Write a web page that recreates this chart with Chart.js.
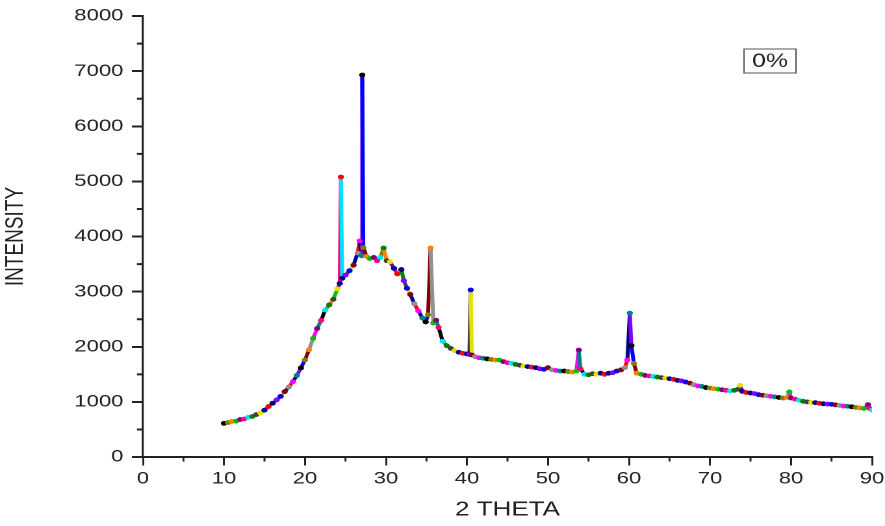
<!DOCTYPE html>
<html>
<head>
<meta charset="utf-8">
<script src="https://cdn.jsdelivr.net/npm/chart.js@4"></script>
<style>
  html, body { margin: 0; padding: 0; background: #fff; overflow: hidden; }
  #wrap { width: 681px; height: 526px; transform: scaleX(1.29956); transform-origin: 0 0; }
</style>
</head>
<body>
<div id="wrap"><canvas id="c" width="681" height="526"></canvas></div>
<script>
// ---- data ----
const twoTheta = [
  10.0,10.5,11.0,11.5,12.0,12.5,13.0,13.5,14.0,14.5,15.0,15.5,16.0,16.5,17.0,17.5,18.0,18.5,19.0,19.5,
  20.0,20.5,21.0,21.5,22.0,22.5,23.0,23.5,24.0,24.3,24.44,24.6,25.0,25.5,26.0,26.5,26.75,27.0,27.07,27.2,
  27.6,28.0,28.5,28.9,29.3,29.7,30.1,30.5,31.0,31.4,31.9,32.2,32.6,33.0,33.5,34.0,34.5,34.9,35.2,35.5,
  35.85,36.2,36.5,37.0,37.5,38.0,38.5,39.0,39.5,40.0,40.3,40.46,40.6,41.0,41.5,42.0,42.5,43.0,43.5,44.0,
  44.5,45.0,45.5,46.0,46.5,47.0,47.5,48.0,48.5,49.0,49.5,50.0,50.5,51.0,51.5,52.0,52.5,53.0,53.5,53.8,
  54.0,54.5,55.0,55.5,56.0,56.5,57.0,57.5,58.0,58.5,59.0,59.5,59.8,60.1,60.3,60.6,60.95,61.5,62.0,62.5,
  63.0,63.5,64.0,64.5,65.0,65.5,66.0,66.5,67.0,67.5,68.0,68.5,69.0,69.5,70.0,70.5,71.0,71.5,72.0,72.5,
  73.0,73.5,73.7,74.0,74.5,75.0,75.5,76.0,76.5,77.0,77.5,78.0,78.5,79.0,79.5,79.8,80.0,80.5,81.0,81.5,
  82.0,82.5,83.0,83.5,84.0,84.5,85.0,85.5,86.0,86.5,87.0,87.5,88.0,88.5,89.0,89.5,89.7,90.0
];
const intensity = [
  610,625,645,650,680,690,720,735,770,800,850,915,975,1035,1100,1185,1270,1365,1480,1615,
  1760,1945,2150,2330,2480,2665,2760,2860,3050,3150,5080,3240,3300,3380,3480,3700,3920,3650,6930,3800,
  3640,3600,3620,3560,3620,3790,3560,3540,3420,3320,3400,3200,3060,2950,2780,2650,2520,2450,2580,3790,
  2430,2480,2350,2100,2020,1970,1930,1900,1880,1870,1860,3030,1850,1820,1800,1790,1780,1770,1760,1760,
  1730,1710,1700,1680,1665,1650,1640,1630,1620,1600,1590,1620,1580,1570,1560,1560,1550,1540,1560,1940,
  1600,1500,1490,1510,1500,1520,1500,1520,1530,1560,1580,1620,1760,2610,2020,1700,1520,1500,1480,1470,
  1460,1450,1440,1430,1420,1410,1390,1380,1360,1340,1310,1290,1280,1260,1250,1240,1230,1220,1210,1200,
  1210,1230,1300,1190,1170,1160,1150,1130,1120,1110,1100,1090,1080,1070,1080,1180,1070,1050,1030,1010,
  1000,990,985,975,965,960,955,945,935,925,920,910,900,890,880,950,880,850
];
const xTicks = [0,10,20,30,40,50,60,70,80,90];
const yTicks = [0,1000,2000,3000,4000,5000,6000,7000,8000];
const xMinorTicks = [5,15,25,35,45,55,65,75,85];
const yMinorTicks = [500,1500,2500,3500,4500,5500,6500,7500];
const legendLabel = '0%';

const palette = ['#000000','#ff0000','#00c000','#0000ff','#00e0ff','#ff00ff','#e8e000','#808000',
  '#000080','#800080','#800000','#008000','#008080','#0000a0','#ff8000','#8000ff','#ff0080','#909090','#404040'];

const points = twoTheta.map((x, i) => ({ x: x, y: intensity[i] }));
const ptColors = points.map((p, i) => palette[(i * 7) % palette.length]);

const AXIS = '#222222';
Chart.defaults.font.family = "'Liberation Sans', Arial, sans-serif";
Chart.defaults.color = AXIS;

const minorTicks = {
  id: 'minorTicks',
  afterDraw(chart) {
    const ctx = chart.ctx;
    const xs = chart.scales.x, ys = chart.scales.y;
    ctx.save();
    ctx.strokeStyle = AXIS;
    ctx.lineWidth = 1.5;
    ctx.beginPath();
    xMinorTicks.forEach(v => {
      const px = xs.getPixelForValue(v);
      ctx.moveTo(px, xs.top); ctx.lineTo(px, xs.top + 4.5);
    });
    ctx.stroke();
    ctx.lineWidth = 2;
    ctx.beginPath();
    yMinorTicks.forEach(v => {
      const py = ys.getPixelForValue(v);
      ctx.moveTo(ys.right, py); ctx.lineTo(ys.right - 4.6, py);
    });
    ctx.stroke();
    // legend box
    const bx = 572.5, by = 49, bw = 40, bh = 24;
    ctx.strokeStyle = '#555555';
    ctx.lineWidth = 1;
    ctx.strokeRect(bx, by, bw, bh);
    ctx.fillStyle = AXIS;
    ctx.font = "19px 'Liberation Sans', Arial, sans-serif";
    ctx.textAlign = 'center';
    ctx.textBaseline = 'middle';
    ctx.fillText(legendLabel, bx + bw / 2, by + bh / 2 + 1);
    ctx.restore();
  }
};

new Chart(document.getElementById('c'), {
  type: 'line',
  data: {
    datasets: [{
      label: legendLabel,
      data: points,
      borderWidth: 3,
      segment: { borderColor: c => palette[(c.p0DataIndex * 7 + 3) % palette.length] },
      pointRadius: 1.9,
      pointBorderWidth: 1,
      pointBackgroundColor: ptColors,
      pointBorderColor: ptColors,
      tension: 0
    }]
  },
  options: {
    responsive: false,
    devicePixelRatio: 2,
    animation: false,
    layout: { padding: { top: 16, right: 10, left: 0, bottom: 0 } },
    plugins: { legend: { display: false }, tooltip: { enabled: false } },
    scales: {
      x: {
        type: 'linear', min: 0, max: 90,
        afterBuildTicks: s => { s.ticks = xTicks.map(v => ({ value: v })); },
        afterFit: s => { s.height = 69; s.paddingLeft = 0; s.paddingRight = 0; },
        ticks: { font: { size: 17 }, padding: 3, color: AXIS, maxRotation: 0, callback: v => String(v) },
        grid: { display: true, drawOnChartArea: false, drawTicks: true, tickLength: 8.5, lineWidth: 1.5, color: AXIS },
        border: { display: true, color: AXIS, width: 2 },
        title: { display: true, text: '2 THETA', font: { size: 20 }, color: AXIS, padding: { top: 0, bottom: 4 } }
      },
      y: {
        type: 'linear', min: 0, max: 8000,
        afterBuildTicks: s => { s.ticks = yTicks.map(v => ({ value: v })); },
        afterFit: s => { s.width = 110; s.paddingTop = 0; s.paddingBottom = 0; },
        ticks: { font: { size: 17 }, padding: 6.5, color: AXIS, callback: v => String(v) },
        grid: { display: true, drawOnChartArea: false, drawTicks: true, tickLength: 8.5, lineWidth: 2, color: AXIS },
        border: { display: true, color: AXIS, width: 1.6 },
        title: { display: true, text: 'INTENSITY', font: { size: 19 }, color: AXIS, padding: { top: 1, bottom: 0 } }
      }
    }
  },
  plugins: [minorTicks]
});
</script>
</body>
</html>
